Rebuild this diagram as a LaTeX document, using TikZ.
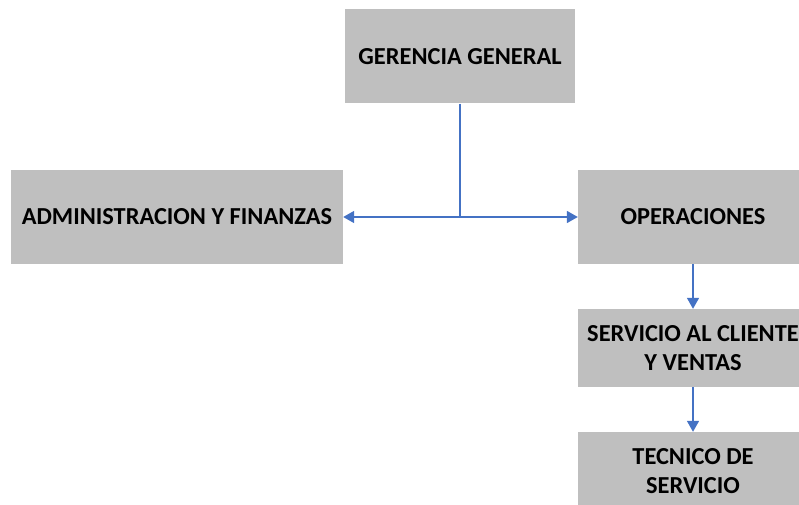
\documentclass[tikz,border=0pt]{standalone}
\usepackage{fontspec}
\setmainfont{Carlito}
\usetikzlibrary{arrows.meta}
\definecolor{boxgray}{RGB}{191,191,191}
\definecolor{linkblue}{RGB}{68,114,196}
\tikzset{
  orgbox/.style={fill=boxgray, draw=none, inner sep=0pt, align=center,
    font=\fontsize{24.4}{29}\selectfont\bfseries, text=black},
  link/.style={draw=linkblue, line width=1.6pt, -{Triangle[length=11pt,width=12pt]}},
  plain/.style={draw=linkblue, line width=1.6pt}
}
\begin{document}
\begin{tikzpicture}[x=1pt,y=-1pt]
\useasboundingbox (0,0) rectangle (799,505);
\node[orgbox, minimum width=230pt, minimum height=94pt] (ger) at (460,56.5) {GERENCIA GENERAL};
\node[orgbox, minimum width=332pt, minimum height=94pt] (adm) at (177,217) {ADMINISTRACION Y FINANZAS};
\node[orgbox, minimum width=230pt, minimum height=94pt] (ops) at (693,217) {OPERACIONES};
\node[orgbox, minimum width=230pt, minimum height=78pt] (serv) at (693,348) {SERVICIO AL CLIENTE\\Y VENTAS};
\node[orgbox, minimum width=230pt, minimum height=78pt] (tec) at (693,471) {TECNICO DE\\SERVICIO};
\coordinate (j) at (460,217);
\draw[plain] (ger.south) -- (j);
\draw[link] (j) -- (adm.east);
\draw[link] (j) -- (ops.west);
\draw[link] (ops.south) -- (serv.north);
\draw[link] (serv.south) -- (tec.north);
\end{tikzpicture}
\end{document}
